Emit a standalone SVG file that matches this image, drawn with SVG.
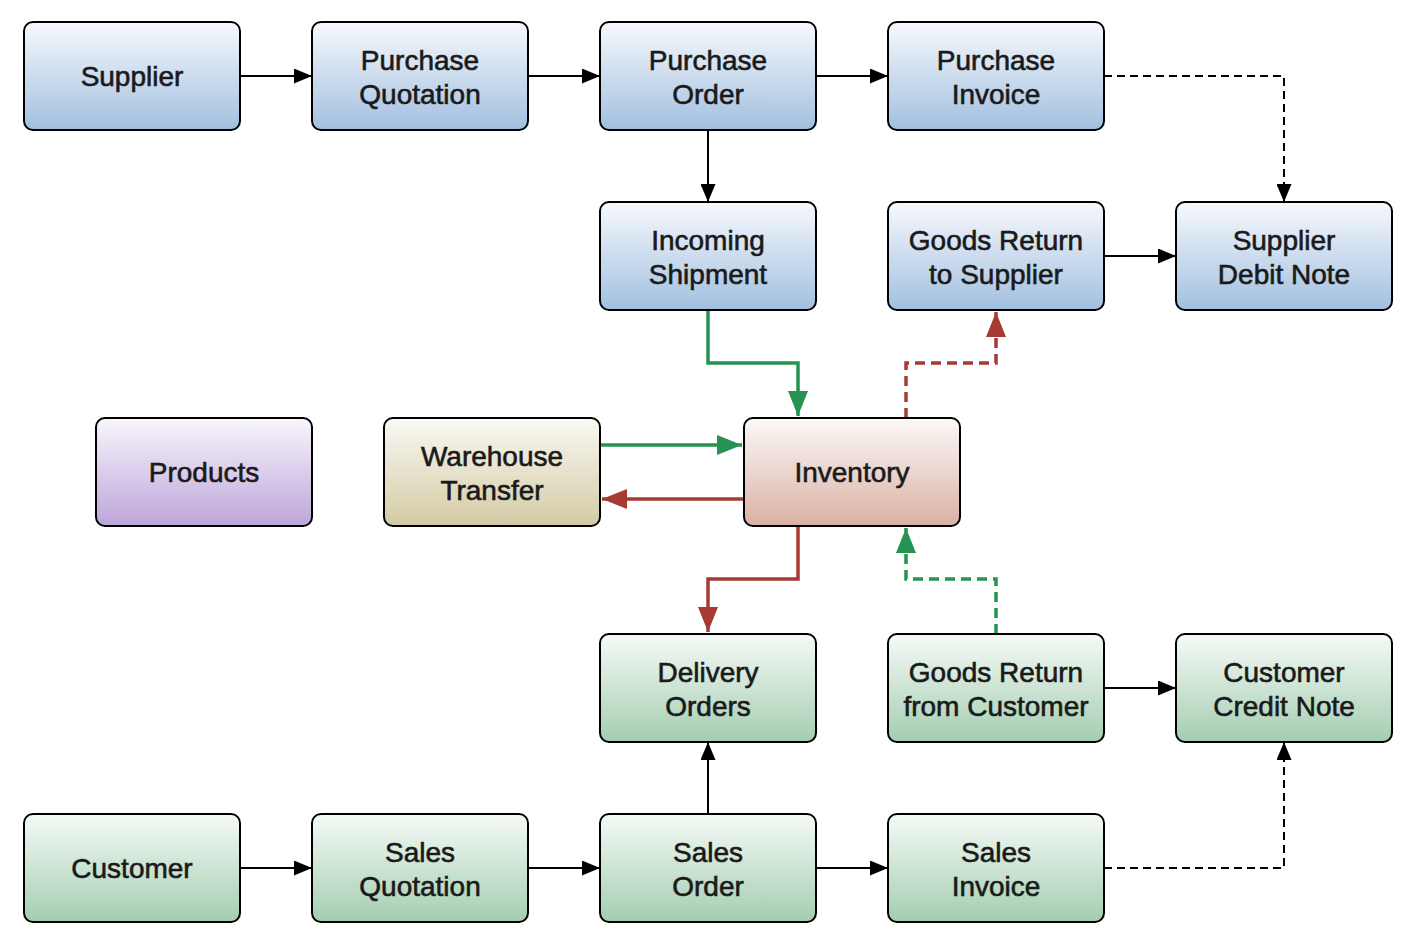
<svg xmlns="http://www.w3.org/2000/svg" width="1414" height="944" viewBox="0 0 1414 944">
<defs>
<linearGradient id="gBlue" x1="0" y1="0" x2="0" y2="1"><stop offset="0" stop-color="#f7f9fc"/><stop offset="1" stop-color="#a2bfe0"/></linearGradient>
<linearGradient id="gGreen" x1="0" y1="0" x2="0" y2="1"><stop offset="0" stop-color="#f6faf7"/><stop offset="1" stop-color="#a3cdb0"/></linearGradient>
<linearGradient id="gPurple" x1="0" y1="0" x2="0" y2="1"><stop offset="0" stop-color="#f9f6fc"/><stop offset="1" stop-color="#bca5da"/></linearGradient>
<linearGradient id="gTan" x1="0" y1="0" x2="0" y2="1"><stop offset="0" stop-color="#faf9f4"/><stop offset="1" stop-color="#d3caa4"/></linearGradient>
<linearGradient id="gRose" x1="0" y1="0" x2="0" y2="1"><stop offset="0" stop-color="#fcf9f8"/><stop offset="1" stop-color="#d9b1a4"/></linearGradient>
<marker id="aBlack" viewBox="0 0 18 15" refX="18" refY="7.5" markerWidth="18" markerHeight="15" markerUnits="userSpaceOnUse" orient="auto"><path d="M0,0 L18,7.5 L0,15 Z" fill="#000"/></marker>
<marker id="aGreen" viewBox="0 0 25 20" refX="25" refY="10" markerWidth="25" markerHeight="20" markerUnits="userSpaceOnUse" orient="auto"><path d="M0,0 L25,10 L0,20 Z" fill="#279352"/></marker>
<marker id="aRed" viewBox="0 0 25 20" refX="25" refY="10" markerWidth="25" markerHeight="20" markerUnits="userSpaceOnUse" orient="auto"><path d="M0,0 L25,10 L0,20 Z" fill="#a83a34"/></marker>
</defs>
<style>
.box{stroke:#000;stroke-width:2}
.t{font-family:"Liberation Sans",Arial,sans-serif;font-size:28px;fill:#1a1a1a;stroke:#1a1a1a;stroke-width:0.6;text-anchor:middle}
.k{fill:none;stroke:#000;stroke-width:2}
.dash{stroke-dasharray:8,5}
.g{fill:none;stroke:#279352;stroke-width:3.5}
.r{fill:none;stroke:#a83a34;stroke-width:3.5}
.cd{stroke-dasharray:10,6}
</style>
<g id="connectors">
<path class="k" d="M240,76 H312" marker-end="url(#aBlack)"/>
<path class="k" d="M528,76 H600" marker-end="url(#aBlack)"/>
<path class="k" d="M816,76 H888" marker-end="url(#aBlack)"/>
<path class="k dash" d="M1104,76 H1284 V202" marker-end="url(#aBlack)"/>
<path class="k" d="M708,130 V202" marker-end="url(#aBlack)"/>
<path class="k" d="M1104,256 H1176" marker-end="url(#aBlack)"/>
<path class="g" d="M708,310 V363 H798 V416" marker-end="url(#aGreen)"/>
<path class="r cd" d="M906,418 V363 H996 V312" marker-end="url(#aRed)"/>
<path class="g" d="M600,445 H742" marker-end="url(#aGreen)"/>
<path class="r" d="M744,499 H602" marker-end="url(#aRed)"/>
<path class="r" d="M798,526 V579 H708 V632" marker-end="url(#aRed)"/>
<path class="g cd" d="M996,634 V579 H906 V528" marker-end="url(#aGreen)"/>
<path class="k" d="M1104,688 H1176" marker-end="url(#aBlack)"/>
<path class="k" d="M240,868 H312" marker-end="url(#aBlack)"/>
<path class="k" d="M528,868 H600" marker-end="url(#aBlack)"/>
<path class="k" d="M816,868 H888" marker-end="url(#aBlack)"/>
<path class="k" d="M708,814 V742" marker-end="url(#aBlack)"/>
<path class="k dash" d="M1104,868 H1284 V742" marker-end="url(#aBlack)"/>
</g>
<g id="supplier"><rect class="box" x="24" y="22" width="216" height="108" rx="9" fill="url(#gBlue)"/><text class="t" x="132" y="86">Supplier</text></g>
<g id="purchase-quotation"><rect class="box" x="312" y="22" width="216" height="108" rx="9" fill="url(#gBlue)"/><text class="t" x="420" y="70">Purchase</text><text class="t" x="420" y="104">Quotation</text></g>
<g id="purchase-order"><rect class="box" x="600" y="22" width="216" height="108" rx="9" fill="url(#gBlue)"/><text class="t" x="708" y="70">Purchase</text><text class="t" x="708" y="104">Order</text></g>
<g id="purchase-invoice"><rect class="box" x="888" y="22" width="216" height="108" rx="9" fill="url(#gBlue)"/><text class="t" x="996" y="70">Purchase</text><text class="t" x="996" y="104">Invoice</text></g>
<g id="incoming-shipment"><rect class="box" x="600" y="202" width="216" height="108" rx="9" fill="url(#gBlue)"/><text class="t" x="708" y="250">Incoming</text><text class="t" x="708" y="284">Shipment</text></g>
<g id="goods-return-supplier"><rect class="box" x="888" y="202" width="216" height="108" rx="9" fill="url(#gBlue)"/><text class="t" x="996" y="250">Goods Return</text><text class="t" x="996" y="284">to Supplier</text></g>
<g id="supplier-debit-note"><rect class="box" x="1176" y="202" width="216" height="108" rx="9" fill="url(#gBlue)"/><text class="t" x="1284" y="250">Supplier</text><text class="t" x="1284" y="284">Debit Note</text></g>
<g id="products"><rect class="box" x="96" y="418" width="216" height="108" rx="9" fill="url(#gPurple)"/><text class="t" x="204" y="482">Products</text></g>
<g id="warehouse-transfer"><rect class="box" x="384" y="418" width="216" height="108" rx="9" fill="url(#gTan)"/><text class="t" x="492" y="466">Warehouse</text><text class="t" x="492" y="500">Transfer</text></g>
<g id="inventory"><rect class="box" x="744" y="418" width="216" height="108" rx="9" fill="url(#gRose)"/><text class="t" x="852" y="482">Inventory</text></g>
<g id="delivery-orders"><rect class="box" x="600" y="634" width="216" height="108" rx="9" fill="url(#gGreen)"/><text class="t" x="708" y="682">Delivery</text><text class="t" x="708" y="716">Orders</text></g>
<g id="goods-return-customer"><rect class="box" x="888" y="634" width="216" height="108" rx="9" fill="url(#gGreen)"/><text class="t" x="996" y="682">Goods Return</text><text class="t" x="996" y="716">from Customer</text></g>
<g id="customer-credit-note"><rect class="box" x="1176" y="634" width="216" height="108" rx="9" fill="url(#gGreen)"/><text class="t" x="1284" y="682">Customer</text><text class="t" x="1284" y="716">Credit Note</text></g>
<g id="customer"><rect class="box" x="24" y="814" width="216" height="108" rx="9" fill="url(#gGreen)"/><text class="t" x="132" y="878">Customer</text></g>
<g id="sales-quotation"><rect class="box" x="312" y="814" width="216" height="108" rx="9" fill="url(#gGreen)"/><text class="t" x="420" y="862">Sales</text><text class="t" x="420" y="896">Quotation</text></g>
<g id="sales-order"><rect class="box" x="600" y="814" width="216" height="108" rx="9" fill="url(#gGreen)"/><text class="t" x="708" y="862">Sales</text><text class="t" x="708" y="896">Order</text></g>
<g id="sales-invoice"><rect class="box" x="888" y="814" width="216" height="108" rx="9" fill="url(#gGreen)"/><text class="t" x="996" y="862">Sales</text><text class="t" x="996" y="896">Invoice</text></g>
</svg>
